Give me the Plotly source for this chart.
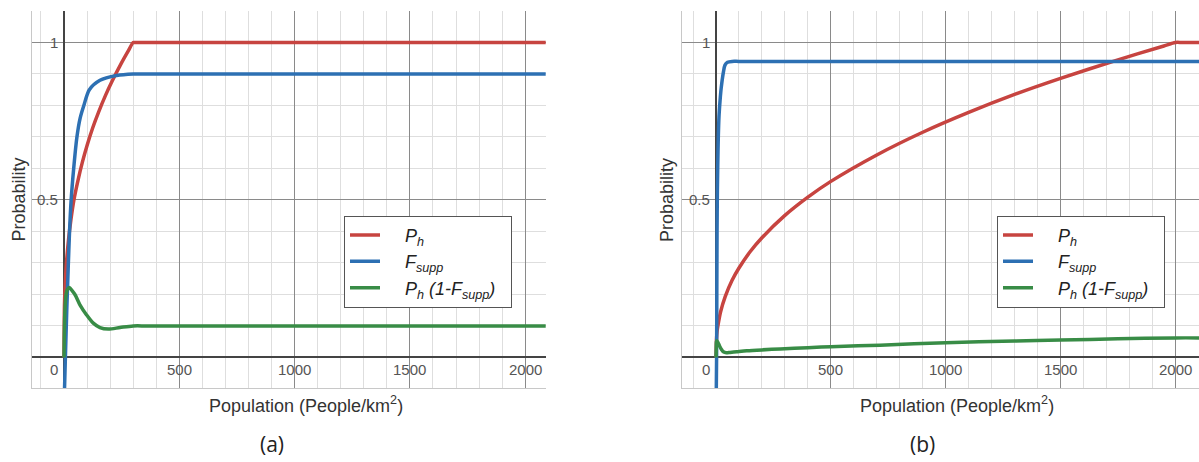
import plotly.graph_objects as go

# ---------------- data ----------------
# Panel (a)
xa_ph = [0, 2, 5, 10, 20, 30, 43, 60, 80, 100, 125, 150, 180, 210, 250, 280, 300, 308, 700, 1400, 2110]
ya_ph = [0, 0.165, 0.229, 0.294, 0.377, 0.437, 0.50, 0.56, 0.621, 0.673, 0.730, 0.779, 0.832, 0.879, 0.936, 0.975, 1.0, 1.0, 1.0, 1.0, 1.0]

xa_f = [1.5, 6, 12, 18, 24, 31, 42, 56, 70, 86, 110, 156, 228, 300, 360, 700, 1400, 2110]
ya_f = [-0.12, 0.0, 0.15, 0.28, 0.40, 0.50, 0.60, 0.70, 0.76, 0.80, 0.85, 0.88, 0.895, 0.9, 0.9, 0.9, 0.9, 0.9]

xa_g = [0, 1, 4, 8, 14, 23, 35, 48, 69, 98, 127, 156, 192, 243, 300, 360, 700, 1400, 2110]
ya_g = [0, 0.06, 0.15, 0.195, 0.215, 0.222, 0.212, 0.199, 0.167, 0.135, 0.109, 0.095, 0.09, 0.095, 0.1, 0.1, 0.1, 0.1, 0.1]

# Panel (b)
xb_ph = [0, 2, 5, 10, 20, 40, 70, 100, 150, 200, 300, 400, 500, 700, 900, 1100, 1300, 1500, 1750, 1950, 2000, 2030, 2110]
yb_ph = [0, 0.055, 0.085, 0.108, 0.145, 0.193, 0.245, 0.284, 0.337, 0.38, 0.451, 0.509, 0.559, 0.643, 0.715, 0.778, 0.835, 0.886, 0.945, 0.989, 1.0, 1.0, 1.0]

xb_f = [1, 2.5, 3.5, 4.5, 6, 7.5, 10, 13, 17, 21, 25, 32, 39, 50, 70, 100, 400, 1000, 1600, 2110]
yb_f = [-0.12, 0.0, 0.2, 0.4, 0.53, 0.606, 0.7, 0.765, 0.81, 0.845, 0.87, 0.905, 0.928, 0.937, 0.94, 0.94, 0.94, 0.94, 0.94, 0.94]

xb_g = [0, 1, 2, 4, 10, 17, 25, 32, 45, 61, 90, 134, 200, 279, 400, 500, 714, 1000, 1300, 1500, 1750, 2000, 2110]
yb_g = [0, 0.03, 0.05, 0.053, 0.045, 0.034, 0.024, 0.018, 0.015, 0.016, 0.018, 0.021, 0.024, 0.027, 0.031, 0.034, 0.039, 0.047, 0.052, 0.055, 0.059, 0.062, 0.062]

x_tick_vals = [0, 500, 1000, 1500, 2000]
x_tick_text = ["0", "500", "1000", "1500", "2000"]
y_tick_vals = [0.5, 1]
y_tick_text = ["0.5", "1"]

series_names = ["<i>P<sub>h</sub></i>", "<i>F<sub>supp</sub></i>",
                "<i>P<sub>h</sub> (1-F<sub>supp</sub>)</i>\u00a0\u00a0"]
panel_labels = ["(a)", "(b)"]

# ---------------- styling ----------------
RED, BLUE, GREEN = "#c74440", "#2d70b3", "#388c46"
colors = [RED, BLUE, GREEN]
W, H = 1199, 462
FONT = "Liberation Sans, Arial, sans-serif"

fig = go.Figure()

panels = [
    dict(xs=[xa_ph, xa_f, xa_g], ys=[ya_ph, ya_f, ya_g], xaxis="x", yaxis="y", legend="legend"),
    dict(xs=[xb_ph, xb_f, xb_g], ys=[yb_ph, yb_f, yb_g], xaxis="x2", yaxis="y2", legend="legend2"),
]
for p in panels:
    for xs, ys, name, c in zip(p["xs"], p["ys"], series_names, colors):
        fig.add_trace(go.Scatter(
            x=xs, y=ys, mode="lines", name="\u00a0\u00a0\u00a0\u00a0" + name,
            line=dict(color=c, width=3.5, shape="spline", smoothing=0.8),
            xaxis=p["xaxis"], yaxis=p["yaxis"],
            legend=p["legend"], hoverinfo="skip"))

ydom = [1 - 388.3 / H, 1 - 11 / H]
common_x = dict(dtick=500, tick0=0, showgrid=True, gridcolor="#8a8a8a", gridwidth=1,
                minor=dict(dtick=100, tick0=0, showgrid=True, gridcolor="#dedede", gridwidth=1),
                zeroline=True, zerolinecolor="#444", zerolinewidth=2,
                showticklabels=False, ticks="", showline=True, linecolor="#c8c8c8", linewidth=1)
common_y = dict(dtick=0.5, tick0=0, showgrid=True, gridcolor="#8a8a8a", gridwidth=1,
                minor=dict(dtick=0.1, tick0=0, showgrid=True, gridcolor="#dedede", gridwidth=1),
                zeroline=True, zerolinecolor="#444", zerolinewidth=2,
                showticklabels=False, ticks="", showline=True, linecolor="#c8c8c8", linewidth=1,
                range=[-0.098, 1.1])

legend_style = dict(xanchor="left", yanchor="top", bgcolor="white", bordercolor="#555",
                    borderwidth=1, font=dict(family=FONT, size=18, color="#222"),
                    itemwidth=30, tracegroupgap=0)

fig.update_layout(
    width=W, height=H, margin=dict(l=0, r=0, t=0, b=0),
    paper_bgcolor="white", plot_bgcolor="white",
    xaxis=dict(domain=[32.3 / W, 545.7 / W], range=[-137.5, 2089], anchor="y", **common_x),
    yaxis=dict(domain=ydom, anchor="x", **common_y),
    xaxis2=dict(domain=[681.7 / W, 1.0], range=[-149.4, 2103], anchor="y2", **common_x),
    yaxis2=dict(domain=ydom, anchor="x2", **common_y),
    legend=dict(x=344 / W, y=1 - 215.7 / H, **legend_style),
    legend2=dict(x=997 / W, y=1 - 215.7 / H, **legend_style),
    showlegend=True,
)

ann = []
for xr, yr in [("x", "y"), ("x2", "y2")]:
    for v, t in zip(x_tick_vals, x_tick_text):
        ann.append(dict(x=v, y=0, xref=xr, yref=yr, text=t, showarrow=False,
                        xanchor="right" if v == 0 else "center", yanchor="top",
                        xshift=-4 if v == 0 else 0, yshift=-2,
                        font=dict(family=FONT, size=15, color="#555")))
    for v, t in zip(y_tick_vals, y_tick_text):
        ann.append(dict(x=0, y=v, xref=xr, yref=yr, text=t, showarrow=False,
                        xanchor="right", yanchor="middle", xshift=-4,
                        font=dict(family=FONT, size=15, color="#555")))

# axis titles and panel labels (paper coordinates)
for cx_title, cx_prob, cx_lab, lab in [(306, 18.5, 272, panel_labels[0]), (957, 667, 922, panel_labels[1])]:
    ann.append(dict(x=cx_title / W, y=1 - 404.5 / H, xref="paper", yref="paper",
                    text="Population (People/km<sup>2</sup>)", showarrow=False,
                    xanchor="center", yanchor="middle",
                    font=dict(family=FONT, size=18, color="#333")))
    ann.append(dict(x=cx_prob / W, y=1 - 200 / H, xref="paper", yref="paper",
                    text="Probability", textangle=-90, showarrow=False,
                    xanchor="center", yanchor="middle",
                    font=dict(family=FONT, size=18, color="#333")))
    ann.append(dict(x=cx_lab / W, y=1 - 444 / H, xref="paper", yref="paper",
                    text=lab, showarrow=False, xanchor="center", yanchor="middle",
                    font=dict(family="Open Sans, Noto Sans, sans-serif", size=21, color="#222")))

fig.update_layout(annotations=ann)
fig.write_html("out.html", config={"displayModeBar": False},
               post_script="document.body.style.margin='0';document.body.style.overflow='hidden';")
